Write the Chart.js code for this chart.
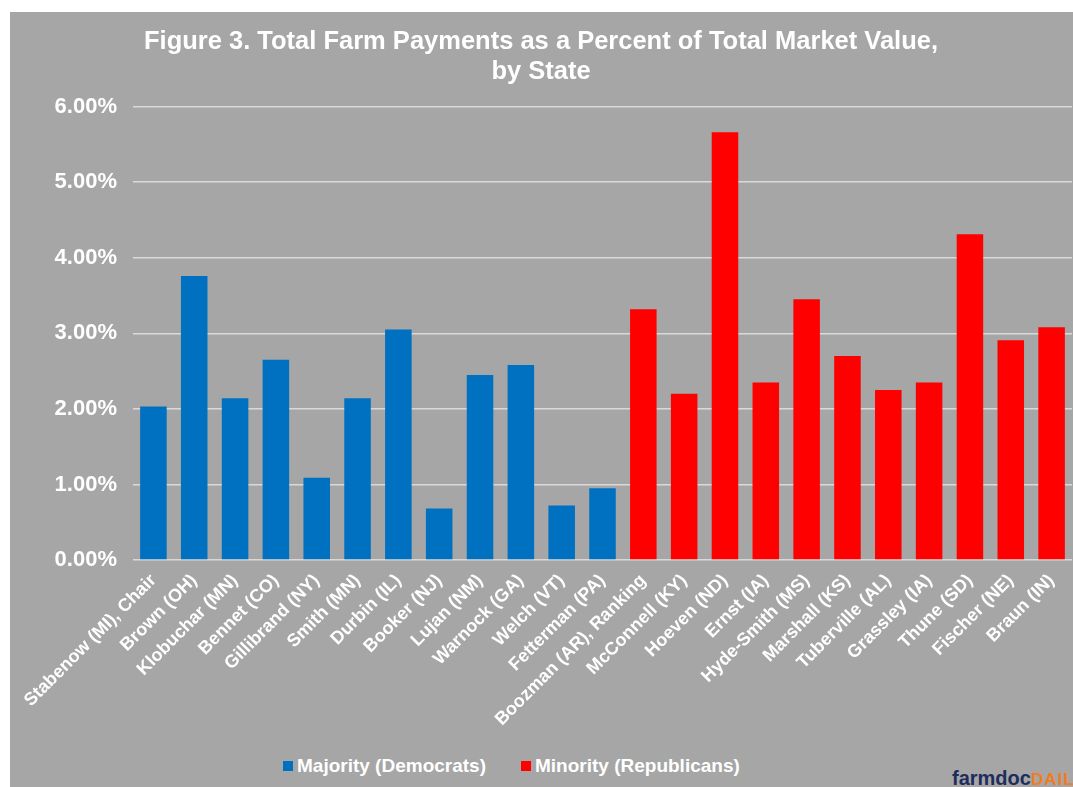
<!DOCTYPE html>
<html>
<head>
<meta charset="utf-8">
<script src="https://cdn.jsdelivr.net/npm/chart.js@4"></script>
<style>
  body { margin: 0; width: 1073px; height: 787px; background: #fff; overflow: hidden; position: relative; font-family: "Liberation Sans", Arial, sans-serif; }
  #frame { position: absolute; left: 10px; top: 12px; width: 1063px; height: 775px; background: #a6a6a6; overflow: hidden; }
  #chart { position: absolute; left: 0; top: 0; }
  #legend { position: absolute; left: 273px; top: 742px; height: 24px; display: flex; align-items: center; }
  #legend .item { display: flex; align-items: center; margin-right: 35px; color: #fff; font-weight: bold; font-size: 19px; }
  #legend .box { width: 10px; height: 10px; margin-right: 4px; }
  #logo { position: absolute; left: 942px; top: 756px; line-height: 20px; white-space: nowrap; font-weight: bold; }
  #logo .farm { color: #1f2d5c; font-size: 20px; }
  #logo .daily { color: #f47b20; font-size: 17px; letter-spacing: 1px; }
</style>
</head>
<body>
<div id="frame">
  <canvas id="chart" width="1063" height="740"></canvas>
  <div id="legend"></div>
  <div id="logo"><span class="farm">farmdoc</span><span class="daily">DAILY</span></div>
</div>
<script>
const titleLines = ['Figure 3. Total Farm Payments as a Percent of Total Market Value,', 'by State']

const senators = [
  'Stabenow (MI), Chair', 'Brown (OH)', 'Klobuchar (MN)', 'Bennet (CO)', 'Gillibrand (NY)',
  'Smith (MN)', 'Durbin (IL)', 'Booker (NJ)', 'Lujan (NM)', 'Warnock (GA)', 'Welch (VT)',
  'Fetterman (PA)', 'Boozman (AR), Ranking', 'McConnell (KY)', 'Hoeven (ND)', 'Ernst (IA)',
  'Hyde-Smith (MS)', 'Marshall (KS)', 'Tuberville (AL)', 'Grassley (IA)', 'Thune (SD)',
  'Fischer (NE)', 'Braun (IN)'
]

// percent of total market value
const majorityValues = [2.03, 3.76, 2.14, 2.65, 1.09, 2.14, 3.05, 0.68, 2.45, 2.58, 0.72, 0.95]
const minorityValues = [3.32, 2.20, 5.66, 2.35, 3.45, 2.70, 2.25, 2.35, 4.31, 2.91, 3.08]

const yTicks = [0, 1, 2, 3, 4, 5, 6]

const seriesNames = ['Majority (Democrats)', 'Minority (Republicans)']
const seriesColors = ['#0070c0', '#ff0000']

const fontFamily = '"Liberation Sans", Arial, sans-serif'

// pad each party out to the full list of senators so the bars line up
const majorityData = majorityValues.concat(minorityValues.map(() => null))
const minorityData = majorityValues.map(() => null).concat(minorityValues)

const ctx = document.querySelector('#chart')
new Chart(ctx, {
  type: 'bar',
  data: {
    labels: senators,
    datasets: [
      { label: seriesNames[0], data: majorityData, backgroundColor: seriesColors[0] },
      { label: seriesNames[1], data: minorityData, backgroundColor: seriesColors[1] }
    ]
  },
  options: {
    responsive: false,
    animation: false,
    layout: { padding: { left: 0, right: 1, top: 0, bottom: 0 } },
    datasets: {
      bar: { grouped: false, barPercentage: 0.65, categoryPercentage: 1 }
    },
    plugins: {
      legend: { display: false },
      tooltip: { enabled: false },
      title: {
        display: true,
        text: titleLines,
        color: '#fff',
        font: { family: fontFamily, size: 25.5, weight: 'bold', lineHeight: 1.17 },
        padding: { top: 15, bottom: 20 }
      }
    },
    scales: {
      x: {
        grid: { display: false },
        border: { display: false },
        ticks: {
          color: '#fff',
          autoSkip: false,
          maxRotation: 45,
          minRotation: 45,
          padding: 2,
          font: { family: fontFamily, size: 18, weight: 'bold' }
        },
        afterFit: (scale) => { scale.height = 192 }
      },
      y: {
        min: yTicks[0],
        max: yTicks[yTicks.length - 1],
        border: { display: false },
        grid: { color: '#d9d9d9', lineWidth: 1.5, drawTicks: false },
        ticks: {
          stepSize: 1,
          color: '#fff',
          padding: 16,
          font: { family: fontFamily, size: 22, weight: 'bold' },
          callback: (v) => v.toFixed(2) + '%'
        },
        afterFit: (scale) => { scale.width = 123 }
      }
    }
  }
})

// legend under the chart
const legend = document.querySelector('#legend')
seriesNames.forEach((name, i) => {
  const item = document.createElement('div')
  item.className = 'item'
  item.innerHTML = `<span class="box" style="background:${seriesColors[i]}"></span>${name}`
  legend.appendChild(item)
})
</script>
</body>
</html>
